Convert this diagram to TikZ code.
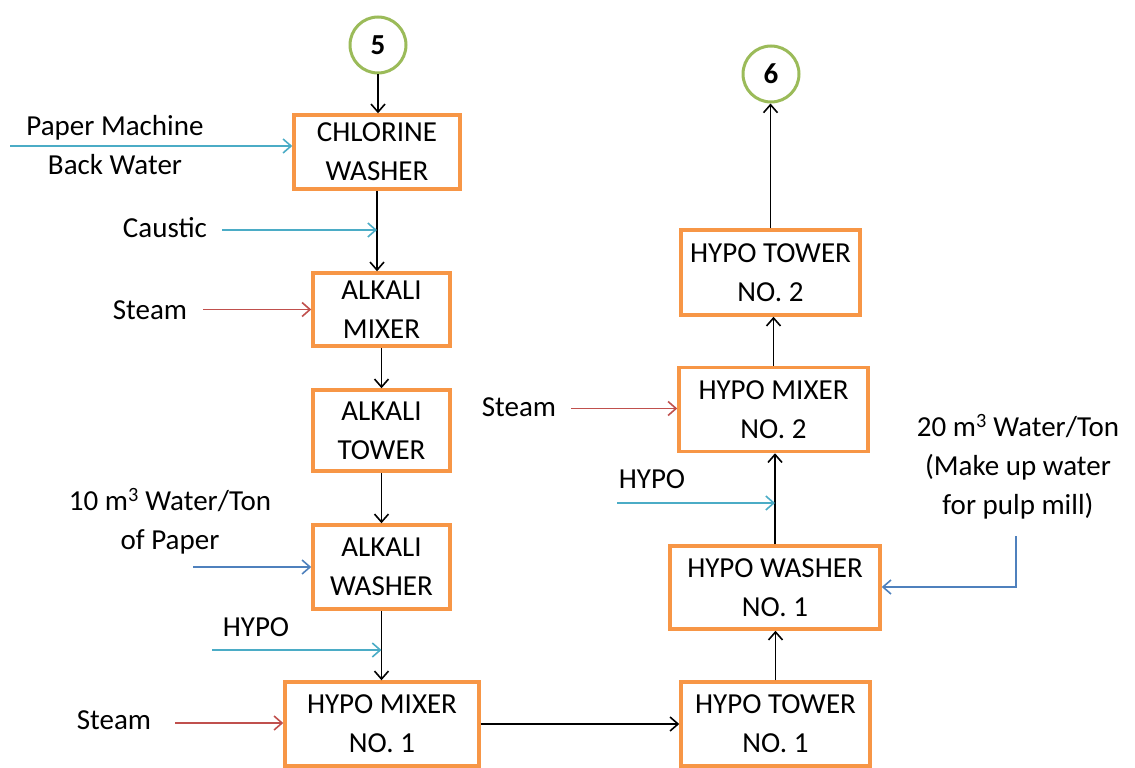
\documentclass[tikz,border=0pt]{standalone}
\usepackage{fontspec}
\setmainfont{Carlito}
\usetikzlibrary{arrows.meta}
\definecolor{boxorange}{RGB}{247,150,70}
\definecolor{ringgreen}{RGB}{155,187,89}
\definecolor{feedcyan}{RGB}{75,172,198}
\definecolor{steamred}{RGB}{192,80,77}
\definecolor{waterblue}{RGB}{79,129,189}
\begin{document}
\begin{tikzpicture}[x=1pt,y=-1pt,
  every node/.style={font=\fontsize{29}{39}\selectfont,align=center},
  unit/.style={draw=boxorange,line width=3.5pt,inner sep=0pt,fill=white},
  ring/.style={circle,draw=ringgreen,line width=3pt,minimum size=56pt,inner sep=0pt,
    font=\fontsize{29}{39}\selectfont\bfseries},
  tip/.style={-{Straight Barb[length=8pt,width=14pt,line width=1.6pt]}},
  flow/.style={tip,draw=black,line width=1.8pt},
  feed/.style={tip,draw=feedcyan,line width=1.8pt},
  steam/.style={tip,draw=steamred,line width=1.8pt},
  water/.style={tip,draw=waterblue,line width=1.5pt}
]
\useasboundingbox (0,0) rectangle (1135,768);

% connectors to the neighbouring sheets
\node[ring] (c5) at (378,45) {5};
\node[ring] (c6) at (771,74) {6};

% bleaching line, left column
\node[unit,minimum width=166pt,minimum height=74pt] (chl) at (377,152) {CHLORINE\\WASHER};
\node[unit,minimum width=137pt,minimum height=73pt] (amix) at (381.5,309.5) {ALKALI\\MIXER};
\node[unit,minimum width=137pt,minimum height=81pt] (atow) at (381.5,430.5) {ALKALI\\TOWER};
\node[unit,minimum width=137pt,minimum height=84pt] (awash) at (381.5,567) {ALKALI\\WASHER};
\node[unit,minimum width=194pt,minimum height=84pt] (hmix1) at (382,724) {HYPO MIXER\\NO. 1};

% bleaching line, right column
\node[unit,minimum width=189pt,minimum height=84pt] (htow1) at (775.5,724) {HYPO TOWER\\NO. 1};
\node[unit,minimum width=210pt,minimum height=83pt] (hwash1) at (775,587.5) {HYPO WASHER\\NO. 1};
\node[unit,minimum width=189pt,minimum height=84pt] (hmix2) at (773.5,409.5) {HYPO MIXER\\NO. 2};
\node[unit,minimum width=179pt,minimum height=85pt] (htow2) at (770.5,272.5) {HYPO TOWER\\NO. 2};

% pulp flow
\draw[flow] (c5) -- (c5 |- chl.north);
\draw[flow] (chl) -- (chl |- amix.north);
\draw[flow] (amix) -- (amix |- atow.north);
\draw[flow] (atow) -- (atow |- awash.north);
\draw[flow] (awash) -- (awash |- hmix1.north);
\draw[flow] (hmix1) -- (hmix1 -| htow1.west);
\draw[flow] (htow1) -- (htow1 |- hwash1.south);
\draw[flow] (hwash1) -- (hwash1 |- hmix2.south);
\draw[flow] (hmix2) -- (hmix2 |- htow2.south);
\draw[flow] (htow2) -- (htow2 |- c6.south);

% inputs
\node (pmw) at (115,145) {Paper Machine\\Back Water};
\coordinate (pmwIn) at (10,146);
\draw[feed] (pmwIn) -- (pmwIn -| chl.west);

\node (caustic) at (165,228) {Caustic};
\coordinate (causticIn) at (222,230);
\draw[feed] (causticIn) -- (causticIn -| chl);

\node (steamA) at (150,310) {Steam};
\coordinate (steamAIn) at (203,309.5);
\draw[steam] (steamAIn) -- (steamAIn -| amix.west);

\node (freshA) at (170,521) {10 m\textsuperscript{3} Water/Ton\\of Paper};
\coordinate (freshAIn) at (193,567);
\draw[water] (freshAIn) -- (freshAIn -| awash.west);

\node (hypoA) at (256,627) {HYPO};
\coordinate (hypoAIn) at (212,650);
\draw[feed] (hypoAIn) -- (hypoAIn -| awash);

\node (steamB) at (114,720) {Steam};
\coordinate (steamBIn) at (175,723);
\draw[steam] (steamBIn) -- (steamBIn -| hmix1.west);

\node (steamC) at (519,407) {Steam};
\coordinate (steamCIn) at (571,408.5);
\draw[steam] (steamCIn) -- (steamCIn -| hmix2.west);

\node (hypoB) at (652,479) {HYPO};
\coordinate (hypoBIn) at (617,503);
\draw[feed] (hypoBIn) -- (hypoBIn -| hwash1);

\node (freshB) at (1018,467) {20 m\textsuperscript{3} Water/Ton\\(Make up water\\for pulp mill)};
\coordinate (freshBIn) at (1016,536);
\draw[water] (freshBIn) |- (hwash1.east |- 0,587);
\end{tikzpicture}
\end{document}
